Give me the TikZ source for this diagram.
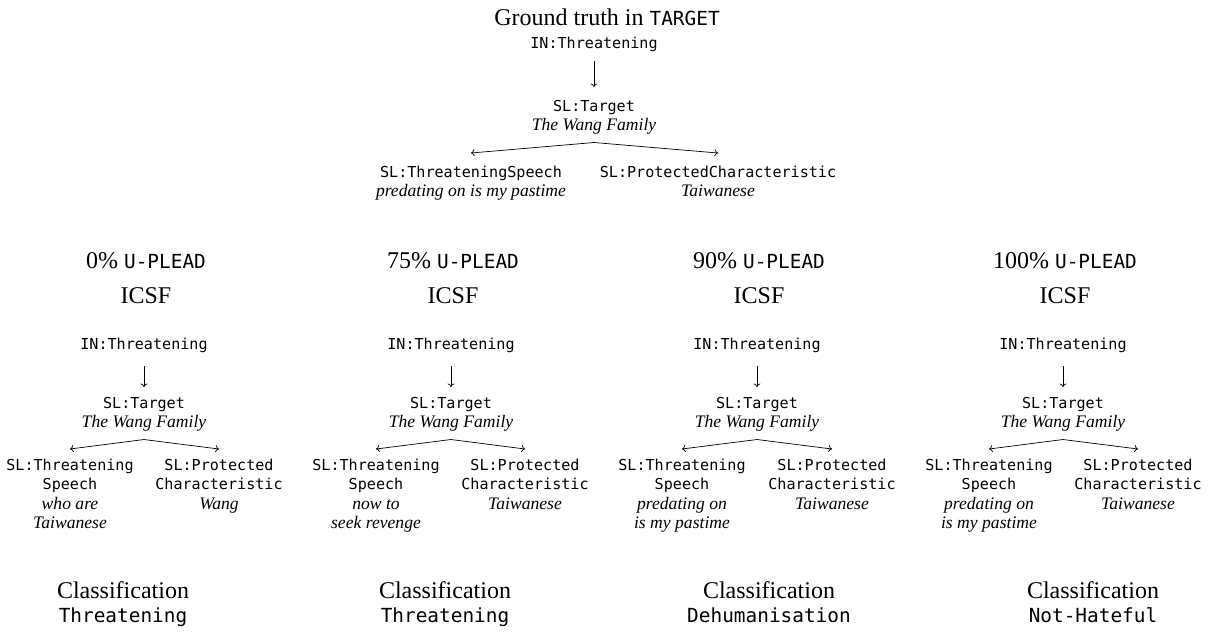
\documentclass[tikz,border=0pt]{standalone}
\usepackage{fontspec}
\setmainfont{Liberation Serif}
\newfontfamily\monof{DejaVu Sans Mono}
\newcommand{\mb}[1]{{\fontsize{15.1}{19.5}\selectfont\monof #1}}
\newcommand{\mh}[1]{{\fontsize{19.4}{24}\selectfont\monof #1}}
\usetikzlibrary{arrows.meta}
\begin{document}
\begin{tikzpicture}[x=1pt,y=-1pt,
  body/.style={font=\fontsize{17.6}{19.5}\selectfont, inner sep=0pt, outer sep=0pt, align=center},
  head/.style={font=\fontsize{24}{24}\selectfont, inner sep=0pt, outer sep=0pt, anchor=base},
  link/.style={line width=0.7pt, -{To[length=3.5pt,width=7pt]}}]
\useasboundingbox (0,0) rectangle (1208,633);

% ground truth tree
\node[head] (gt) at (607,25) {Ground truth in \mh{TARGET}};
\node[body,anchor=base] (tin) at (594,48) {\mb{IN:Threatening}};
\node[body,anchor=north] (ttg) at (594,100) {\mb{SL:Target}\\\textit{The Wang Family}};
\node[body,anchor=north] (tl) at (471,166) {\mb{SL:ThreateningSpeech}\\\textit{predating on is my pastime}};
\node[body,anchor=north] (tr) at (718,166) {\mb{SL:ProtectedCharacteristic}\\\textit{Taiwanese}};
\draw[link, shorten <=10pt, shorten >=13pt] (tin) -- (ttg);
\draw[link] ([yshift=-8pt]ttg.south) -- ([yshift=13pt]tl.north);
\draw[link] ([yshift=-8pt]ttg.south) -- ([yshift=13pt]tr.north);

% four model columns
\foreach \i/\cx/\lx/\rx/\kx/\pc/\lt/\rt/\kv in {
 1/144/70/219/123/0/{\textit{who are}\\\textit{Taiwanese}}/{Wang}/{Threatening},
 2/451/376/525/445/75/{\textit{now to}\\\textit{seek revenge}}/{Taiwanese}/{Threatening},
 3/757/682/832/769/90/{\textit{predating on}\\\textit{is my pastime}}/{Taiwanese}/{Dehumanisation},
 4/1063/989/1138/1093/100/{\textit{predating on}\\\textit{is my pastime}}/{Taiwanese}/{Not-Hateful}}{
 \node[head] (h\i) at (\cx+2,268) {\pc\% \mh{U-PLEAD}};
 \node[head] (ic\i) at (\cx+2,303) {ICSF};
 \node[body,anchor=base] (in\i) at (\cx,349) {\mb{IN:Threatening}};
 \node[body,anchor=north] (tg\i) at (\cx,397) {\mb{SL:Target}\\\textit{The Wang Family}};
 \node[body,anchor=north] (l\i) at (\lx,459) {\mb{SL:Threatening}\\\mb{Speech}\\\lt};
 \node[body,anchor=north] (r\i) at (\rx,459) {\mb{SL:Protected}\\\mb{Characteristic}\\\textit{\rt}};
 \draw[link, shorten <=14pt, shorten >=10pt] (in\i) -- (tg\i);
 \draw[link] ([yshift=-8pt]tg\i.south) -- ([yshift=10pt]l\i.north);
 \draw[link] ([yshift=-8pt]tg\i.south) -- ([yshift=10pt]r\i.north);
 \node[head] (k\i) at (\kx,598) {Classification};
 \node[head] (kv\i) at (\kx,622) {\mh{\kv}};
}
\end{tikzpicture}
\end{document}
